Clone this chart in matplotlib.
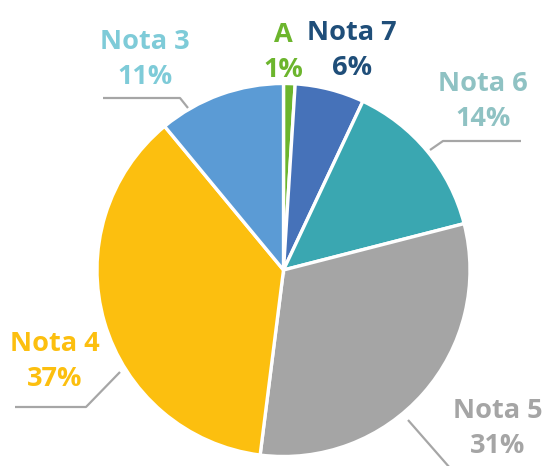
import matplotlib
matplotlib.use("Agg")
import matplotlib.pyplot as plt

categories = ["A", "Nota 7", "Nota 6", "Nota 5", "Nota 4", "Nota 3"]
values = [1, 6, 14, 31, 37, 11]
slice_colors = ["#6cb52d", "#4672b9", "#3aa7b1", "#a5a5a5", "#fcbf0f", "#5b9bd5"]
label_colors = ["#6cb52d", "#1f4e79", "#8fc2c3", "#a5a5a5", "#fcbf0f", "#7ecbd8"]

W, H = 542, 466
fig = plt.figure(figsize=(W / 100, H / 100), dpi=100)
ax = fig.add_axes([0, 0, 1, 1])
ax.set_xlim(0, W)
ax.set_ylim(0, H)
ax.set_aspect("equal")
ax.axis("off")

cx, cy, r = 283.5, 270, 186.5
ax.pie(values, colors=slice_colors, startangle=90, counterclock=False,
       center=(cx, H - cy), radius=r, frame=True,
       wedgeprops=dict(edgecolor="white", linewidth=2.4))
ax.set_xlim(0, W)
ax.set_ylim(0, H)
ax.axis("off")

# label positions (pixel coords, y from top)
label_pos = {
    "A": (283, 35),
    "Nota 7": (352, 33),
    "Nota 6": (483, 84),
    "Nota 5": (498, 411),
    "Nota 4": (55, 344),
    "Nota 3": (145, 42),
}
font = dict(family=["Open Sans", "DejaVu Sans"], fontweight="bold", fontsize=19.5)
for cat, val, col in zip(categories, values, label_colors):
    x, y = label_pos[cat]
    ax.text(x, H - y, cat, color=col, ha="center", va="center", **font)
    ax.text(x, H - y - 35, f"{val}%", color=col, ha="center", va="center", **font)

# leader lines
leaders = [
    [(103, 98), (180, 98), (188, 108)],
    [(430, 150), (443, 141), (521, 141)],
    [(15, 407), (86, 407), (120, 372)],
    [(408, 420), (450, 468)],
]
for pts in leaders:
    xs = [p[0] for p in pts]
    ys = [H - p[1] for p in pts]
    ax.plot(xs, ys, color="#a6a6a6", linewidth=1.6, solid_capstyle="butt")

fig.savefig("out.png", dpi=100)
